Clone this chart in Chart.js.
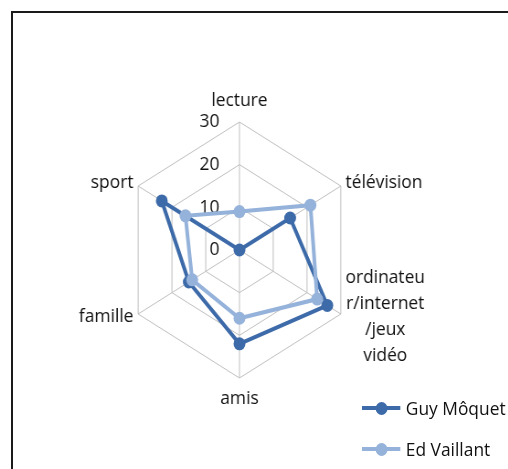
<!DOCTYPE html>
<html>
<head>
<meta charset="utf-8">
<script src="https://cdn.jsdelivr.net/npm/chart.js@4.4.0/dist/chart.umd.min.js"></script>
<style>
  html, body { margin: 0; padding: 0; background: #fff; overflow: hidden; }
  body { width: 508px; height: 469px; position: relative; }
  .frame {
    position: absolute; left: 11px; top: 11px; width: 520px; height: 480px;
    border-left: 2px solid #1a1a1a; border-top: 2px solid #1a1a1a;
  }
  /* the plot is drawn a bit wider and squeezed back horizontally */
  #wrap {
    position: absolute; left: 0; top: 0; width: 556px; height: 469px;
    transform: scaleX(0.914); transform-origin: 0 0;
  }
  #legend { position: absolute; left: 396px; top: 0; font: 19px "Open Sans", sans-serif; color: #111; }
  .item { position: absolute; left: 0; height: 26px; white-space: nowrap; display: flex; align-items: center; }
  .mark { position: relative; width: 42px; height: 26px; margin-right: 6px; }
  .mark .ln { position: absolute; left: 0; right: 0; top: 11px; height: 4px; }
  .mark .dot { position: absolute; left: 14.5px; top: 6.5px; width: 13px; height: 13px; border-radius: 50%; }
</style>
</head>
<body>
<div class="frame"></div>
<div id="wrap">
  <canvas id="radar" width="556" height="469"></canvas>
  <div id="legend"></div>
</div>
<script>
/* ---- data ---- */
const axisLabels = [
  ['lecture'],
  ['télévision'],
  ['ordinateu', 'r/internet', '/jeux', 'vidéo'],
  ['amis'],
  ['famille'],
  ['sport']
];
const seriesNames = ['Guy Môquet', 'Ed Vaillant'];
const guyMoquet = [0, 15, 26, 22, 15, 23];
const edVaillant = [9, 21, 23, 16, 14, 16];
const scaleMax = 30;
const scaleStep = 10;

const colors = ['#3d6aa8', '#95b2da'];
const FONT = '19px "Open Sans", sans-serif';
const TEXT = '#111';
const LINE_H = 26;

/* tick numbers sit to the left of the vertical axis */
const tickNumbers = {
  id: 'tickNumbers',
  beforeDatasetsDraw(chart) {
    const r = chart.scales.r;
    const ctx = chart.ctx;
    ctx.save();
    ctx.font = FONT;
    ctx.fillStyle = TEXT;
    ctx.textAlign = 'right';
    ctx.textBaseline = 'middle';
    r.ticks.forEach(t => {
      const y = r.yCenter - r.getDistanceFromCenterForValue(t.value);
      ctx.fillText(String(t.value), r.xCenter - 22, y);
    });
    ctx.restore();
  }
};

/* category names, multi-line blocks centred on their spoke */
const spokeNames = {
  id: 'spokeNames',
  afterDraw(chart) {
    const r = chart.scales.r;
    const ctx = chart.ctx;
    ctx.save();
    ctx.font = FONT;
    ctx.fillStyle = TEXT;
    ctx.textAlign = 'center';
    ctx.textBaseline = 'middle';
    chart.data.labels.forEach((lines, i) => {
      const deg = Math.round(r.getIndexAngle(i) * 180 / Math.PI) % 360;
      const gap = (deg === 0 || deg === 180) ? 8 : 6;
      const p = r.getPointPosition(i, r.drawingArea + gap);
      const bw = Math.max(...lines.map(l => ctx.measureText(l).width));
      const bh = lines.length * LINE_H;
      let left, top;
      if (deg === 0) { left = p.x - bw / 2; top = p.y - bh; }
      else if (deg === 180) { left = p.x - bw / 2; top = p.y; }
      else if (deg < 180) { left = p.x; top = p.y - bh / 2; }
      else { left = p.x - bw; top = p.y - bh / 2; }
      lines.forEach((l, k) => ctx.fillText(l, left + bw / 2, top + LINE_H * (k + 0.5)));
    });
    ctx.restore();
  }
};

const mkSet = (label, data, color, order) => ({
  label, data, order,
  borderColor: color,
  backgroundColor: color,
  pointBackgroundColor: color,
  pointBorderColor: color,
  borderWidth: 4,
  pointRadius: 6.5,
  pointBorderWidth: 0,
  fill: false,
  tension: 0
});

new Chart(document.getElementById('radar'), {
  type: 'radar',
  data: {
    labels: axisLabels,
    datasets: [
      mkSet(seriesNames[0], guyMoquet, colors[0], 1),
      mkSet(seriesNames[1], edVaillant, colors[1], 0)
    ]
  },
  options: {
    responsive: false,
    animation: false,
    layout: { padding: { left: 134, right: 166, top: 122, bottom: 91 } },
    plugins: { legend: { display: false }, tooltip: { enabled: false } },
    scales: {
      r: {
        min: 0,
        max: scaleMax,
        startAngle: 0,
        ticks: { stepSize: scaleStep, display: false },
        grid: { color: '#bfbfbf', lineWidth: 1 },
        angleLines: { color: '#bfbfbf', lineWidth: 1 },
        pointLabels: { display: false }
      }
    }
  },
  plugins: [tickNumbers, spokeNames]
});

/* legend */
const legend = document.getElementById('legend');
const rowsY = [408, 449];
seriesNames.forEach((name, i) => {
  const item = document.createElement('div');
  item.className = 'item';
  item.style.top = (rowsY[i] - 13) + 'px';
  item.innerHTML = '<span class="mark"><span class="ln" style="background:' + colors[i] + '"></span>' +
    '<span class="dot" style="background:' + colors[i] + '"></span></span><span>' + name + '</span>';
  legend.appendChild(item);
});
</script>
</body>
</html>
